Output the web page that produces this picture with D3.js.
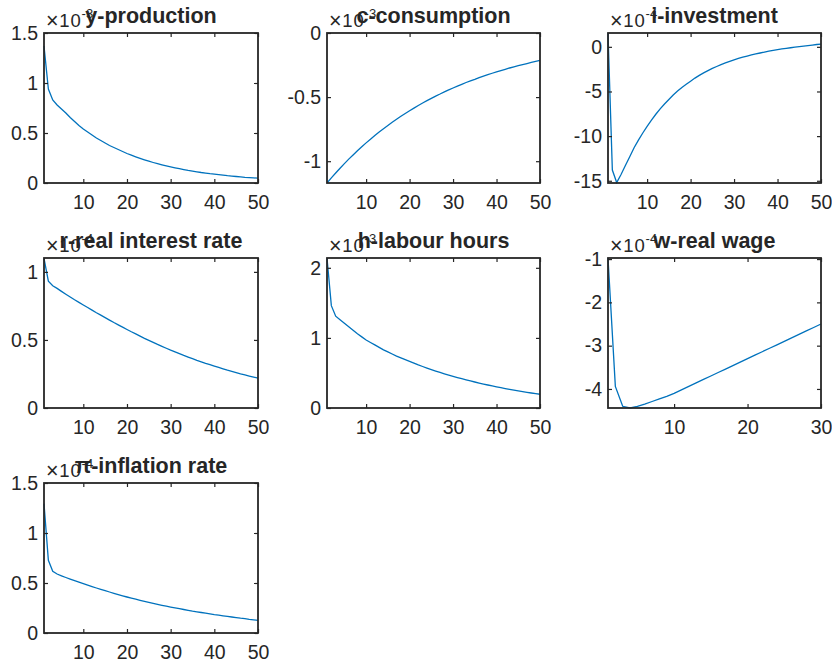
<!DOCTYPE html>
<html><head><meta charset="utf-8">
<script src="https://cdn.jsdelivr.net/npm/d3@7"></script>
<style>
body{margin:0;background:#fff}
svg{display:block}
text{font-family:Arial,"Liberation Sans",Helvetica,sans-serif;fill:#262626}
</style>
</head><body>
<svg id="chart" width="832" height="666"></svg>
<script>
// ---------- data (impulse responses) ----------
const titles = ["y-production","c-consumption","i-investment","r-real interest rate","h-labour hours","w-real wage","\u03c0-inflation rate"];
const exponents = ["-3","-3","-4","-4","-3","-4","-4"];

const production = [1.37,0.94,0.83,0.78,0.74,0.70,0.655,0.615,0.575,0.54,0.51,0.48,0.45,0.425,0.40,0.375,0.355,0.335,0.315,0.295,0.278,0.262,0.247,0.232,0.218,0.205,0.193,0.182,0.171,0.161,0.152,0.143,0.134,0.126,0.119,0.112,0.105,0.099,0.093,0.088,0.083,0.078,0.073,0.069,0.065,0.061,0.057,0.054,0.051,0.048];
const consumption = [-1.170,-1.130,-1.092,-1.055,-1.019,-0.984,-0.951,-0.918,-0.887,-0.857,-0.828,-0.800,-0.772,-0.746,-0.721,-0.696,-0.673,-0.650,-0.628,-0.606,-0.586,-0.566,-0.546,-0.528,-0.510,-0.492,-0.476,-0.459,-0.444,-0.429,-0.414,-0.400,-0.386,-0.373,-0.361,-0.348,-0.336,-0.325,-0.314,-0.303,-0.293,-0.283,-0.273,-0.264,-0.255,-0.246,-0.238,-0.230,-0.222,-0.214];
const investment = [1.54,-13.8,-15.2,-14.3,-13.3,-12.3,-11.3,-10.45,-9.65,-8.9,-8.2,-7.55,-6.95,-6.4,-5.9,-5.4,-4.95,-4.55,-4.2,-3.85,-3.5,-3.2,-2.92,-2.66,-2.42,-2.2,-1.99,-1.8,-1.62,-1.45,-1.3,-1.16,-1.03,-0.91,-0.8,-0.69,-0.59,-0.49,-0.4,-0.32,-0.24,-0.17,-0.1,-0.04,0.02,0.08,0.14,0.2,0.26,0.31];
const interest = [1.10,0.932,0.898,0.879,0.857,0.836,0.815,0.795,0.776,0.757,0.738,0.719,0.700,0.682,0.664,0.646,0.628,0.611,0.594,0.577,0.560,0.544,0.528,0.512,0.497,0.482,0.467,0.453,0.439,0.425,0.412,0.399,0.386,0.374,0.362,0.350,0.339,0.328,0.318,0.308,0.298,0.288,0.278,0.269,0.260,0.251,0.243,0.235,0.227,0.219];
const hours = [2.14,1.46,1.31,1.26,1.21,1.16,1.11,1.06,1.015,0.97,0.935,0.90,0.865,0.83,0.80,0.77,0.74,0.715,0.69,0.665,0.64,0.615,0.592,0.57,0.548,0.527,0.507,0.488,0.47,0.452,0.435,0.418,0.402,0.386,0.371,0.356,0.342,0.328,0.315,0.302,0.29,0.278,0.266,0.255,0.244,0.234,0.224,0.214,0.205,0.196];
const wage = [-0.975,-3.94,-4.40,-4.44,-4.40,-4.35,-4.29,-4.23,-4.17,-4.10,-4.02,-3.94,-3.86,-3.78,-3.70,-3.62,-3.54,-3.46,-3.38,-3.30,-3.22,-3.14,-3.06,-2.98,-2.90,-2.82,-2.74,-2.66,-2.58,-2.50];
const inflation = [1.294,0.727,0.617,0.59,0.572,0.555,0.539,0.523,0.508,0.493,0.478,0.464,0.450,0.436,0.423,0.410,0.397,0.384,0.372,0.360,0.349,0.338,0.327,0.316,0.306,0.296,0.286,0.277,0.268,0.259,0.251,0.243,0.235,0.227,0.219,0.212,0.205,0.198,0.191,0.184,0.178,0.172,0.166,0.160,0.154,0.148,0.143,0.137,0.132,0.127];

const seriesList = [production,consumption,investment,interest,hours,wage,inflation];
const yDomains = [[0,1.5],[-1.17,0],[-15.25,1.55],[0,1.102],[0,2.14],[-4.44,-0.975],[0,1.5]];
const yTickValues = [[0,0.5,1,1.5],[-1,-0.5,0],[-15,-10,-5,0],[0,0.5,1],[0,1,2],[-4,-3,-2,-1],[0,0.5,1,1.5]];
const xTickValues = [[10,20,30,40,50],[10,20,30,40,50],[10,20,30,40,50],[10,20,30,40,50],[10,20,30,40,50],[10,20,30],[10,20,30,40,50]];

// ---------- layout ----------
const colLeft = [44, 327, 608];
const colWidth = [214, 213, 213];
const rowTop = [33, 258, 483];
const plotH = 150;
const blue = "#0072BD";
const axisCol = "#262626";
const tickFont = 19.5, titleFont = 21.5, expFont = 18.5;

const svg = d3.select("#chart");

seriesList.forEach((vals, i) => {
  const col = i % 3, row = Math.floor(i / 3);
  const L = colLeft[col], T = rowTop[row], W = colWidth[col], H = plotH;
  const g = svg.append("g").attr("transform", `translate(${L},${T})`);
  const x = d3.scaleLinear().domain([1, vals.length]).range([0, W]);
  const y = d3.scaleLinear().domain(yDomains[i]).range([H, 0]);
  const fmt = d => String(d);

  // line
  g.append("path")
    .datum(vals)
    .attr("fill", "none")
    .attr("stroke", blue)
    .attr("stroke-width", 1.3)
    .attr("d", d3.line().x((d, k) => x(k + 1)).y(d => y(d)));

  // axes (inward ticks, box)
  const bottom = g.append("g").attr("transform", `translate(0,${H})`)
    .call(d3.axisBottom(x).tickValues(xTickValues[i]).tickSizeInner(-4).tickSizeOuter(0).tickPadding(12).tickFormat(fmt));
  const top = g.append("g")
    .call(d3.axisTop(x).tickValues(xTickValues[i]).tickSizeInner(-4).tickSizeOuter(0).tickFormat(""));
  const left = g.append("g")
    .call(d3.axisLeft(y).tickValues(yTickValues[i]).tickSizeInner(-4).tickSizeOuter(0).tickPadding(6).tickFormat(fmt));
  const right = g.append("g").attr("transform", `translate(${W},0)`)
    .call(d3.axisRight(y).tickValues(yTickValues[i]).tickSizeInner(-4).tickSizeOuter(0).tickFormat(""));
  [bottom, top, left, right].forEach(a => {
    a.select(".domain").remove();
    a.selectAll(".tick line").attr("stroke", axisCol).attr("stroke-width", 1.2);
    a.selectAll(".tick text").attr("font-size", tickFont).attr("fill", axisCol)
      .attr("font-family", "Arial, 'Liberation Sans', sans-serif");
  });

  g.append("rect").attr("x", 0).attr("y", 0).attr("width", W).attr("height", H)
    .attr("fill", "none").attr("stroke", axisCol).attr("stroke-width", 1.8);

  // exponent label
  const ex = g.append("text").attr("x", 2).attr("y", -6).attr("font-size", expFont)
    .attr("letter-spacing", 0.8);
  ex.append("tspan").attr("font-size", expFont + 3).attr("dy", 1).text("\u00d7");
  ex.append("tspan").attr("dy", -1).text("10");
  ex.append("tspan").attr("dy", -9).attr("font-size", 13).attr("letter-spacing", 0).text(exponents[i]);

  // title
  g.append("text").attr("x", W / 2).attr("y", -10)
    .attr("text-anchor", "middle").attr("font-weight", "bold").attr("font-size", titleFont)
    .attr("fill", "#000").text(titles[i]);
});
</script>
</body></html>
